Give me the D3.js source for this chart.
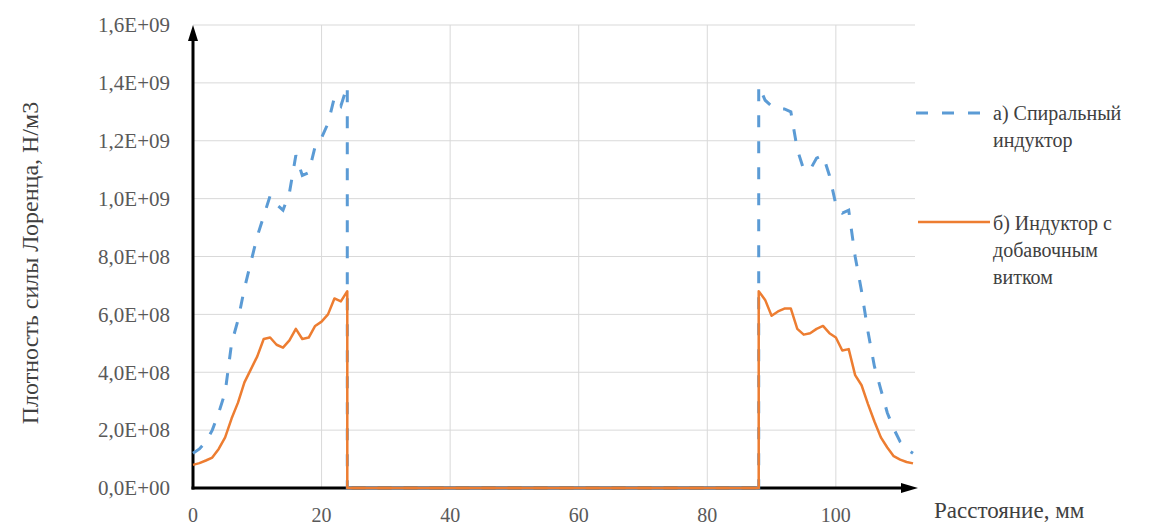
<!DOCTYPE html>
<html><head><meta charset="utf-8">
<script src="https://cdn.jsdelivr.net/npm/d3@7"></script>
<style>
html,body{margin:0;padding:0;background:#fff;}
svg{display:block;}
</style></head>
<body>
<svg id="chart" width="1153" height="527"></svg>
<script>
// ---- data ----
const xLeft = [0,1,2,3,4,5,6,7,8,9,10,11,12,13,14,15,16,17,18,19,20,21,22,23,24];
const spiralLeft = [1.2e8,1.35e8,1.6e8,2.0e8,2.6e8,3.3e8,5.0e8,5.8e8,6.9e8,7.8e8,8.7e8,9.4e8,1.01e9,9.8e8,9.6e8,1.02e9,1.15e9,1.08e9,1.09e9,1.18e9,1.21e9,1.26e9,1.35e9,1.32e9,1.39e9];
const extraLeft = [8.0e7,8.6e7,9.5e7,1.05e8,1.35e8,1.75e8,2.4e8,2.95e8,3.65e8,4.1e8,4.55e8,5.15e8,5.2e8,4.95e8,4.85e8,5.1e8,5.5e8,5.15e8,5.2e8,5.6e8,5.75e8,6.0e8,6.55e8,6.45e8,6.8e8];
const xGap = [24,88];
const gapValues = [0,0];
const xRight = [88,89,90,91,92,93,94,95,96,97,98,99,100,101,102,103,104,105,106,107,108,109,110,111,112];
const spiralRight = [1.39e9,1.34e9,1.32e9,1.31e9,1.31e9,1.30e9,1.17e9,1.10e9,1.10e9,1.14e9,1.15e9,1.08e9,9.8e8,9.5e8,9.6e8,8.0e8,6.8e8,5.4e8,4.2e8,3.4e8,2.6e8,2.05e8,1.6e8,1.35e8,1.2e8];
const extraRight = [6.8e8,6.5e8,5.95e8,6.1e8,6.2e8,6.2e8,5.5e8,5.3e8,5.35e8,5.5e8,5.6e8,5.35e8,5.2e8,4.75e8,4.8e8,3.9e8,3.55e8,2.9e8,2.3e8,1.75e8,1.4e8,1.1e8,9.8e7,9.0e7,8.5e7];
const xTicks = [0,20,40,60,80,100];
const yTicks = [0,2e8,4e8,6e8,8e8,1.0e9,1.2e9,1.4e9,1.6e9];
const yTickLabels = ["0,0E+00","2,0E+08","4,0E+08","6,0E+08","8,0E+08","1,0E+09","1,2E+09","1,4E+09","1,6E+09"];
const seriesNames = [["а) Спиральный","индуктор"],["б) Индуктор с","добавочным","витком"]];
const yTitle = "Плотность силы Лоренца, Н/м3";
const xTitle = "Расстояние, мм";

// ---- layout ----
const FONT = "'Liberation Serif', 'DejaVu Serif', 'Times New Roman', serif";
const svg = d3.select("#chart").attr("font-family", FONT);
const pL = 193, pR = 913, pT = 25, pB = 488;
const x = d3.scaleLinear().domain([0,112]).range([pL,pR]);
const y = d3.scaleLinear().domain([0,1.6e9]).range([pB,pT]);

function buildSeries(a,b){
  const pts = [];
  xLeft.forEach((xv,i)=>pts.push([xv,a[i]]));
  xGap.forEach((xv,i)=>pts.push([xv,gapValues[i]]));
  xRight.forEach((xv,i)=>pts.push([xv,b[i]]));
  return pts;
}
const spiral = buildSeries(spiralLeft, spiralRight);
const extra = buildSeries(extraLeft, extraRight);

// gridlines
const grid = svg.append("g");
grid.selectAll("line.h").data(yTicks.slice(1)).join("line")
  .attr("x1",pL).attr("x2",915)
  .attr("y1",d=>y(d)).attr("y2",d=>y(d))
  .attr("stroke","#d9d9d9").attr("stroke-width",1);
grid.selectAll("line.v").data(xTicks.slice(1)).join("line")
  .attr("x1",d=>x(d)).attr("x2",d=>x(d))
  .attr("y1",pT).attr("y2",pB)
  .attr("stroke","#d9d9d9").attr("stroke-width",1);

// axes
const ax = svg.append("g");
ax.append("line").attr("x1",pL).attr("x2",pL).attr("y1",pB+1.5).attr("y2",pT+12)
  .attr("stroke","#000").attr("stroke-width",3);
ax.append("path").attr("d",`M${pL},${pT} L${pL-5},${pT+16} L${pL+5},${pT+16} Z`).attr("fill","#000");
ax.append("line").attr("x1",pL-1.5).attr("x2",pR-10).attr("y1",pB).attr("y2",pB)
  .attr("stroke","#000").attr("stroke-width",3);
ax.append("path").attr("d",`M${pR+5},${pB} L${pR-12},${pB-5} L${pR-12},${pB+5} Z`).attr("fill","#000");

// lines
const line = d3.line().x(d=>x(d[0])).y(d=>y(d[1]));
svg.append("path").datum(spiral).attr("d",line)
  .attr("fill","none").attr("stroke","#5b9bd5").attr("stroke-width",3)
  .attr("stroke-dasharray","12,14");
svg.append("path").datum(extra).attr("d",line)
  .attr("fill","none").attr("stroke","#ed7d31").attr("stroke-width",2.5)
  .attr("stroke-linejoin","round");

// tick labels
svg.append("g").selectAll("text").data(yTicks).join("text")
  .attr("x",170).attr("y",d=>y(d)).attr("dy","0.35em")
  .attr("text-anchor","end").attr("font-size",21).attr("fill","#595959")
  .attr("font-family",FONT)
  .text((d,i)=>yTickLabels[i]);
svg.append("g").selectAll("text").data(xTicks).join("text")
  .attr("x",d=>x(d)).attr("y",515).attr("dy","0.35em")
  .attr("text-anchor","middle").attr("font-size",20).attr("fill","#595959")
  .attr("font-family",FONT)
  .text(d=>d);

// axis titles
svg.append("text").attr("transform","translate(30,263) rotate(-90)").attr("dy","0.35em")
  .attr("text-anchor","middle").attr("font-size",24).attr("fill","#404040")
  .attr("font-family",FONT).text(yTitle);
svg.append("text").attr("x",934).attr("y",510).attr("dy","0.35em")
  .attr("font-size",23).attr("fill","#404040")
  .attr("font-family",FONT).text(xTitle);

// legend
const leg = svg.append("g");
leg.append("line").attr("x1",916).attr("x2",990).attr("y1",113).attr("y2",113)
  .attr("stroke","#5b9bd5").attr("stroke-width",3).attr("stroke-dasharray","12,14");
leg.append("line").attr("x1",918).attr("x2",990).attr("y1",222).attr("y2",222)
  .attr("stroke","#ed7d31").attr("stroke-width",2.5);
const legY = [113,223];
seriesNames.forEach((lines,si)=>{
  lines.forEach((t,li)=>{
    leg.append("text").attr("x",993).attr("y",legY[si]+li*27).attr("dy","0.35em")
      .attr("font-size",20).attr("fill","#404040")
      .attr("font-family",FONT).text(t);
  });
});
</script>
</body></html>
